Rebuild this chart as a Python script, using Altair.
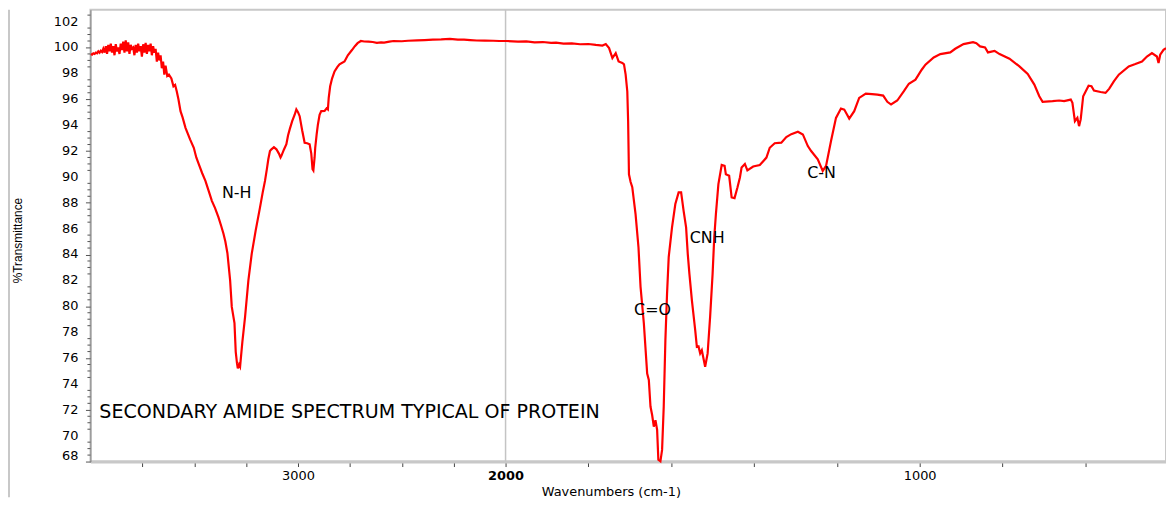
import altair as alt
import pandas as pd

# ---- spectrum (wavenumber cm-1, %T) ----
wavenumbers = [
    3998, 3992, 3986, 3980, 3974, 3968, 3962, 3956, 3950, 3944, 3938, 3932, 3926, 3920,
    3914, 3908, 3902, 3896, 3890, 3884, 3878, 3872, 3866, 3860, 3854, 3848, 3842, 3836,
    3830, 3824, 3818, 3812, 3806, 3800, 3794, 3788, 3782, 3776, 3770, 3764, 3758, 3752,
    3746, 3740, 3734, 3728, 3722, 3716, 3710, 3704, 3698, 3692, 3686, 3680, 3674, 3668,
    3662, 3656, 3650, 3644, 3638, 3630,
    3622, 3610, 3600, 3592, 3584, 3576, 3566, 3556, 3542, 3530, 3520, 3502, 3490, 3478,
    3462, 3446, 3430, 3415, 3400, 3383, 3370, 3359, 3350, 3340, 3327, 3319, 3306, 3300,
    3294, 3290, 3284, 3279, 3274, 3268, 3255, 3239, 3223, 3204, 3183, 3170, 3159, 3150,
    3143, 3135, 3128, 3116, 3104, 3092, 3084, 3080, 3068, 3056, 3048, 3040, 3028, 3016,
    3008, 3000, 2992, 2980, 2968, 2956, 2944, 2936, 2930, 2926, 2920, 2917, 2910, 2904,
    2896, 2888, 2872, 2862, 2856, 2852, 2845, 2836, 2824, 2810, 2800, 2776, 2760, 2740,
    2726, 2713, 2697, 2681, 2660, 2640, 2620, 2600, 2585, 2560, 2540, 2500, 2470, 2426,
    2390, 2350, 2310, 2268, 2230, 2200, 2170, 2139, 2100, 2060, 2030, 1998, 1970, 1950,
    1930, 1910, 1890, 1878, 1860, 1840, 1820, 1800, 1782, 1766, 1758, 1750, 1742, 1734,
    1727, 1718, 1714, 1710, 1706, 1704, 1702, 1698, 1694, 1686, 1679, 1674, 1666, 1658,
    1654, 1650, 1646, 1642, 1638, 1634, 1631, 1626, 1622, 1618, 1614, 1610, 1606, 1598,
    1590, 1582, 1576, 1570, 1564, 1560, 1556, 1550, 1542, 1538, 1534, 1530, 1526, 1522,
    1518, 1512, 1506, 1500, 1496, 1492, 1486, 1478, 1471, 1468, 1460, 1454, 1447, 1440,
    1434, 1430, 1422, 1416, 1402, 1386, 1370, 1362, 1350, 1334, 1322, 1310, 1294, 1282,
    1270, 1262, 1246, 1234, 1226, 1214, 1202, 1190, 1182, 1170, 1158, 1146, 1130, 1115,
    1102, 1088, 1078, 1069, 1054, 1038, 1026, 1010, 995, 986, 966, 950, 926, 914,
    894, 871, 863, 854, 842, 835, 819, 807, 783, 759, 739, 723, 711, 703,
    679, 663, 651, 635, 631, 625, 619, 615, 611, 605, 592, 585, 579, 563,
    551, 542, 531, 519, 495, 479, 463, 451, 439, 427, 423, 419, 411, 405,
]
transmittance = [
    99.5, 99.45, 99.55, 99.5, 99.6, 99.55, 99.7, 99.6, 99.75, 99.65, 99.9, 99.6, 100.1, 99.5,
    100.2, 99.7, 100.3, 99.6, 100.1, 99.4, 100.25, 99.7, 100.0, 99.5, 100.3, 99.8, 100.45, 99.6,
    100.55, 99.7, 100.4, 99.5, 100.2, 99.9, 100.0, 99.4, 100.2, 99.6, 100.3, 99.7, 100.1, 99.3,
    100.25, 99.6, 100.35, 99.5, 100.2, 99.7, 100.3, 99.4, 100.1, 99.6, 99.9, 98.9, 99.6, 99.0,
    99.4, 98.4, 98.9, 97.9, 98.6, 97.8,
    97.9, 97.6, 97.0, 97.1, 96.6, 96.0, 95.08, 94.6, 93.79, 93.3, 92.9, 92.25, 91.5, 90.98,
    90.3, 89.69, 88.9, 88.15, 87.6, 86.87, 86.2, 85.6, 85.0, 84.1, 82.0, 79.95, 78.7, 76.48,
    75.6, 75.2, 75.5, 75.33, 76.2, 77.25, 79.18, 82.0, 84.05, 85.85, 87.64, 88.8, 89.69, 90.6,
    91.36, 92.0, 92.13, 92.3, 92.13, 91.8, 91.5, 91.62, 92.1, 92.52, 93.2, 93.67, 94.3, 94.8,
    95.21, 95.0, 94.69, 93.6, 92.64, 92.6, 92.52, 91.8, 90.6, 90.5, 91.5, 92.25, 93.3, 94.05,
    94.8, 95.08, 95.1, 95.3, 95.21, 96.1, 97.0, 97.6, 98.15, 98.5, 98.7, 98.92, 99.4, 99.8,
    100.1, 100.33, 100.5, 100.46, 100.45, 100.42, 100.36, 100.4, 100.38, 100.45, 100.5, 100.48, 100.52, 100.55,
    100.57, 100.6, 100.62, 100.67, 100.6, 100.6, 100.57, 100.54, 100.53, 100.52, 100.5, 100.5, 100.45, 100.47,
    100.4, 100.42, 100.35, 100.38, 100.3, 100.32, 100.25, 100.27, 100.2, 100.15, 100.26, 99.95, 99.18, 99.56,
    98.92, 98.8, 98.7, 97.9, 96.6, 94.3, 90.2, 89.6, 89.2, 87.1, 84.56, 81.5, 78.67, 74.8,
    74.3, 72.25, 71.6, 70.7, 71.2, 70.46, 68.15, 68.02, 68.9, 72.25, 77.4, 80.98, 83.8, 86.1,
    87.9, 88.8, 88.8, 87.38, 86.1, 84.05, 82.5, 80.46, 78.15, 76.87, 76.9, 76.36, 76.6, 75.97,
    75.33, 76.36, 79.18, 82.5, 85.33, 87.13, 89.44, 90.92, 90.85, 90.2, 90.08, 88.41, 88.36, 89.18,
    89.95, 90.72, 91.0, 90.5, 90.8, 90.92, 91.49, 92.25, 92.6, 92.64, 93.08, 93.3, 93.49, 93.28,
    92.38, 92.0, 91.36, 90.46, 90.85, 92.77, 94.56, 95.28, 95.2, 94.5, 95.08, 96.1, 96.44, 96.4,
    96.36, 96.28, 95.8, 95.59, 95.9, 96.62, 97.2, 97.51, 98.28, 98.67, 99.23, 99.49, 99.62, 99.9,
    100.26, 100.41, 100.33, 100.08, 100.0, 99.62, 99.74, 99.49, 99.13, 98.54, 97.95, 97.13, 96.23, 95.8,
    95.85, 95.9, 95.85, 95.97, 95.72, 94.3, 94.56, 93.92, 94.44, 96.23, 97.05, 97.0, 96.67, 96.56,
    96.49, 96.82, 97.38, 97.9, 98.54, 98.72, 98.92, 99.3, 99.56, 99.3, 98.8, 99.44, 99.82, 99.95,
]

# ---- annotations ----
peak_labels = ["N-H", "C=O", "CNH", "C-N"]
peak_x = [3295, 1645, 1513, 1237]
peak_y = [88.77, 79.69, 85.25, 90.33]
note_text = ["SECONDARY AMIDE SPECTRUM TYPICAL OF PROTEIN"]
note_x = [3957]
note_y = [71.85]

# ---- axes ----
x_tick_values = [3750, 3500, 3250, 3000, 2750, 2500, 2250, 2000, 1800, 1600, 1400, 1200, 1000, 800, 600]
x_labelled = [3000, 2000, 1000]
y_tick_values = list(range(68, 103, 2))
y_minor_values = [v / 2 for v in range(137, 206) if v % 4 != 0]
break_line = [2000]

spec = pd.DataFrame({"wn": wavenumbers, "t": transmittance})
peaks = pd.DataFrame({"wn": peak_x, "t": peak_y, "label": peak_labels})
note = pd.DataFrame({"wn": note_x, "t": note_y, "label": note_text})
minor = pd.DataFrame({"t": y_minor_values})
ylab_mid = pd.DataFrame({"t": [v for v in y_tick_values if v != 68],
                         "label": [str(v) for v in y_tick_values if v != 68]})
ylab_low = pd.DataFrame({"t": [68], "label": ["68"]})
brk = pd.DataFrame({"wn": break_line})

xscale = alt.Scale(domain=[4000, 2000, 405], range=[0, 418, 1083], nice=False, zero=False)
yscale = alt.Scale(domain=[68, 102.92], nice=False, zero=False)

lab_expr = " || ".join(f"datum.value == {v}" for v in x_labelled)

x_axis = alt.Axis(
    values=x_tick_values,
    labelExpr=f"({lab_expr}) ? ('' + datum.value) : ''",
    labelFont="DejaVu Sans", labelFontSize=13, labelColor="black",
    labelFontWeight={"condition": {"test": "datum.value == 2000", "value": "bold"}, "value": "normal"},
    labelPadding=3, labelBaseline="top", labelFlush=False, labelOverlap=False,
    tickSize=5, tickColor="#444444", tickWidth=1,
    domainColor="#c8c8c8", domainWidth=3, grid=False,
    title="Wavenumbers (cm-1)", titleFont="DejaVu Sans", titleFontSize=13,
    titleFontWeight="normal", titleColor="black",
    titleX=524, titleY=30, titleAlign="center", titleBaseline="middle",
)
y_axis = alt.Axis(
    values=y_tick_values, labels=False,
    tickSize=5, tickColor="#555555", tickWidth=1,
    domainColor="#7f7f7f", domainWidth=1, grid=False,
    title="%Transmittance", titleFont="Liberation Sans", titleFontSize=12,
    titleFontWeight="normal", titleColor="black",
    titleX=-73, titleY=232, titleAngle=270, titleAlign="center", titleBaseline="middle",
)

break_rule = alt.Chart(brk).mark_rule(color="#c4c4c4", strokeWidth=1.5).encode(
    x=alt.X("wn:Q", scale=xscale),
    y=alt.value(0), y2=alt.value(455),
)

line = alt.Chart(spec).mark_line(color="#ff0000", strokeWidth=2.2).encode(
    x=alt.X("wn:Q", scale=xscale, axis=x_axis),
    y=alt.Y("t:Q", scale=yscale, axis=y_axis),
)

peak_text = alt.Chart(peaks).mark_text(
    font="DejaVu Sans", fontSize=16, color="black", align="center", baseline="middle"
).encode(
    x=alt.X("wn:Q", scale=xscale),
    y=alt.Y("t:Q", scale=yscale),
    text="label:N",
)

note_mark = alt.Chart(note).mark_text(
    font="DejaVu Sans", fontSize=19.2, color="black", align="left", baseline="middle"
).encode(
    x=alt.X("wn:Q", scale=xscale),
    y=alt.Y("t:Q", scale=yscale),
    text="label:N",
)

minor_ticks = alt.Chart(minor).mark_rule(color="#555555", strokeWidth=1).encode(
    x=alt.value(-3), x2=alt.value(0),
    y=alt.Y("t:Q", scale=yscale),
)

y_labels_mid = alt.Chart(ylab_mid).mark_text(
    font="DejaVu Sans", fontSize=13, color="black", align="right", baseline="middle"
).encode(
    x=alt.value(-12),
    y=alt.Y("t:Q", scale=yscale),
    text="label:N",
)
y_labels_low = alt.Chart(ylab_low).mark_text(
    font="DejaVu Sans", fontSize=13, color="black", align="right", baseline="bottom", dy=1
).encode(
    x=alt.value(-12),
    y=alt.Y("t:Q", scale=yscale),
    text="label:N",
)

frame_left = alt.Chart(pd.DataFrame({"k": [0]})).mark_rule(color="#c8c8c8", strokeWidth=2).encode(
    x=alt.value(-82), y=alt.value(0), y2=alt.value(491),
)

chart = alt.layer(
    break_rule, line, peak_text, note_mark, minor_ticks, y_labels_mid, y_labels_low, frame_left
).properties(
    width=1083, height=455,
    autosize=alt.AutoSizeParams(type="none"),
    padding={"left": 83, "top": 0, "right": 0, "bottom": 36},
).configure_view(
    stroke="#c8c8c8", strokeWidth=2
)

chart.save("out.html", embed_options={"renderer": "svg", "actions": False})
